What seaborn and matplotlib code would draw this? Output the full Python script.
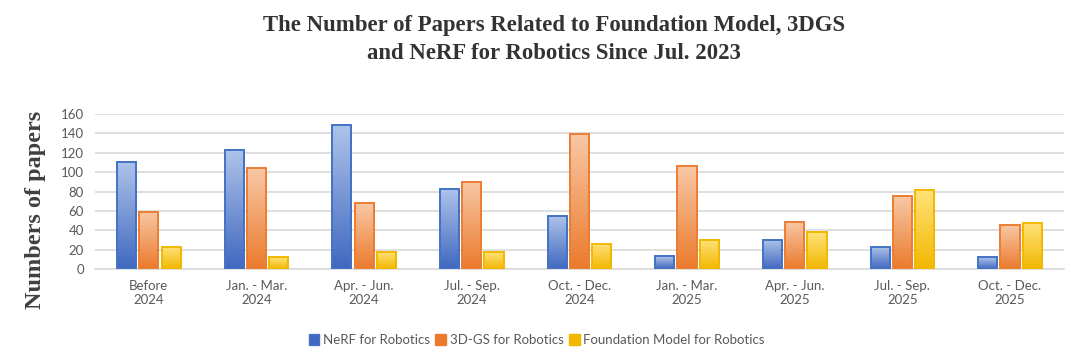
import numpy as np
import pandas as pd
import seaborn as sns
import matplotlib.pyplot as plt
from matplotlib.colors import LinearSegmentedColormap

periods = ["Before\n2024", "Jan. - Mar.\n2024", "Apr. - Jun.\n2024", "Jul. - Sep.\n2024",
           "Oct. - Dec.\n2024", "Jan. - Mar.\n2025", "Apr. - Jun.\n2025", "Jul. - Sep.\n2025",
           "Oct. - Dec.\n2025"]
series = ["NeRF for Robotics", "3D-GS for Robotics", "Foundation Model for Robotics"]
nerf = [111, 123, 149, 83, 55, 13, 30, 23, 12]
gs3d = [59, 104, 68, 90, 139, 106, 49, 75, 45]
fm = [23, 12, 18, 17, 26, 30, 38, 82, 47]

edge_colors = ["#4472C4", "#ED7D31", "#F2B800"]
top_colors = ["#AFC4EA", "#F8C8A6", "#FFE27A"]
bottom_colors = ["#4068C0", "#EB7A2C", "#F2B700"]

df = pd.DataFrame({"period": periods * 3,
                   "series": np.repeat(series, len(periods)),
                   "count": nerf + gs3d + fm})

sns.set_style("white")
plt.rcParams["font.family"] = ["Lato", "DejaVu Sans"]

fig = plt.figure(figsize=(10.8, 3.61), dpi=100)
ax = fig.add_axes([0.088, 0.255, 0.897, 0.429])

sns.barplot(data=df, x="period", y="count", hue="series", order=periods, hue_order=series,
            palette=edge_colors, width=0.62, gap=0.14, ax=ax, legend=True)

# gradient fill inside each bar
for container, ec, tc, bc in zip(ax.containers, edge_colors, top_colors, bottom_colors):
    cmap = LinearSegmentedColormap.from_list("g", [bc, tc])
    grad = np.linspace(0, 1, 256).reshape(-1, 1)
    for bar in container:
        x0, y0 = bar.get_x(), bar.get_y()
        w, h = bar.get_width(), bar.get_height()
        bar.set_facecolor("none")
        bar.set_edgecolor(ec)
        bar.set_linewidth(1.4)
        bar.set_zorder(3)
        im = ax.imshow(grad, cmap=cmap, origin="lower", aspect="auto",
                       extent=(x0, x0 + w, y0, y0 + h), zorder=2)
        im.set_clip_path(bar)

ax.set_xlim(-0.5, len(periods) - 0.5)
ax.set_ylim(0, 160)
ax.set_yticks(range(0, 161, 20))
ax.yaxis.grid(True, color="#D9D9D9", linewidth=1.2)
ax.set_axisbelow(True)
for s in ["top", "right", "left"]:
    ax.spines[s].set_visible(False)
ax.spines["bottom"].set_color("#D9D9D9")
ax.spines["bottom"].set_linewidth(1.2)
ax.tick_params(axis="both", length=0, labelsize=9.5, colors="#595959", pad=8)
ax.tick_params(axis="y", pad=8)
ax.set_xlabel("")
ax.set_ylabel("Numbers of papers", family="Liberation Serif", fontweight="bold",
              fontsize=17.5, color="#404040")
ax.yaxis.set_label_coords(-0.051, 0.38)

handles, labels = ax.get_legend_handles_labels()
for hnd, ec, bc in zip(handles, edge_colors, bottom_colors):
    hnd.set_facecolor(bc)
    hnd.set_edgecolor(ec)
ax.legend(handles, labels, loc="center", bbox_to_anchor=(0.497, 0.058), bbox_transform=fig.transFigure,
          ncol=3, frameon=False, fontsize=9.5, handlelength=0.8, handleheight=0.8,
          handletextpad=0.3, columnspacing=0.4, labelcolor="#595959")

fig.text(0.513, 0.928, "The Number of Papers Related to Foundation Model, 3DGS",
         ha="center", va="center", family="Liberation Serif", fontweight="bold",
         fontsize=16.4, color="#333333")
fig.text(0.513, 0.852, "and NeRF for Robotics Since Jul. 2023",
         ha="center", va="center", family="Liberation Serif", fontweight="bold",
         fontsize=16.4, color="#333333")

fig.savefig("out.png", dpi=100)
